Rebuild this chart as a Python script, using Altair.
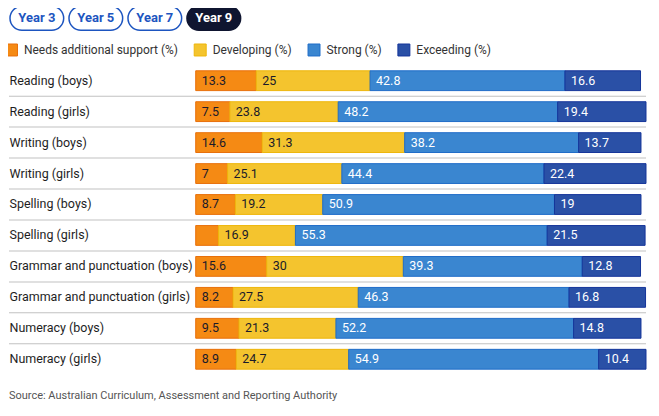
import altair as alt
import pandas as pd

categories = ["Reading (boys)", "Reading (girls)", "Writing (boys)", "Writing (girls)",
              "Spelling (boys)", "Spelling (girls)", "Grammar and punctuation (boys)",
              "Grammar and punctuation (girls)", "Numeracy (boys)", "Numeracy (girls)"]
series = ["Needs additional support (%)", "Developing (%)", "Strong (%)", "Exceeding (%)"]
needs = [13.3, 7.5, 14.6, 7, 8.7, 5.0, 15.6, 8.2, 9.5, 8.9]
developing = [25, 23.8, 31.3, 25.1, 19.2, 16.9, 30, 27.5, 21.3, 24.7]
strong = [42.8, 48.2, 38.2, 44.4, 50.9, 55.3, 39.3, 46.3, 52.2, 54.9]
exceeding = [16.6, 19.4, 13.7, 22.4, 19, 21.5, 12.8, 16.8, 14.8, 10.4]
buttons = ["Year 3", "Year 5", "Year 7", "Year 9"]
active_button = "Year 9"
source_text = "Source: Australian Curriculum, Assessment and Reporting Authority"

fills = ["#f58a14", "#f4c42e", "#3a86d0", "#2a50a6"]
strokes = ["#e86f0a", "#eeb60a", "#1f6cc8", "#14349a"]
FONT = "Roboto"
LEFT = -187

rows = []
for vals, s_idx in zip([needs, developing, strong, exceeding], range(4)):
    for c, v in zip(categories, vals):
        rows.append({"category": c, "series": series[s_idx], "order": s_idx, "value": v})
df = pd.DataFrame(rows)

yenc = alt.Y("category:N", sort=categories, title=None,
             scale=alt.Scale(paddingInner=0.36, paddingOuter=0.18),
             axis=alt.Axis(labelAlign="left", labelPadding=-LEFT, ticks=False, domain=False,
                           labelFont=FONT, labelFontSize=12.5, labelColor="#1e1e1e",
                           labelLimit=200, grid=False))

base = alt.Chart(df).transform_stack(
    stack="value", groupby=["category"], as_=["start", "end"],
    sort=[alt.SortField("order", order="ascending")]
)

def make_legend():
    return alt.Legend(title=None, orient="none", legendX=LEFT - 4, legendY=-22,
                      direction="horizontal", symbolType="square",
                      symbolSize=144, symbolStrokeWidth=1, labelOffset=6,
                      columnPadding=13, labelFont=FONT, labelFontSize=12,
                      labelColor="#333", labelLimit=300)

bars = base.mark_bar(strokeWidth=1).encode(
    y=yenc,
    x=alt.X("start:Q", scale=alt.Scale(domain=[0, 100], nice=False), axis=None, title=None),
    x2="end:Q",
    color=alt.Color("series:N", scale=alt.Scale(domain=series, range=fills), sort=series,
                    legend=make_legend()),
    stroke=alt.Stroke("series:N", scale=alt.Scale(domain=series, range=strokes), sort=series,
                      legend=make_legend()),
)

labelled = base.transform_calculate(
    label="datum.value >= 6 ? '' + datum.value : ''"
)
text_dark = labelled.transform_filter("datum.order < 2").mark_text(
    align="left", baseline="middle", dx=6, font=FONT, fontSize=12.5, color="#1a1a2a"
).encode(y=alt.Y("category:N", sort=categories), x=alt.X("start:Q"), text="label:N")
text_light = labelled.transform_filter("datum.order >= 2").mark_text(
    align="left", baseline="middle", dx=6, font=FONT, fontSize=12.5, color="#ffffff"
).encode(y=alt.Y("category:N", sort=categories), x=alt.X("start:Q"), text="label:N")

sep_df = pd.DataFrame({"category": categories[1:]})
seps = alt.Chart(sep_df).mark_tick(
    orient="horizontal", thickness=1, strokeDash=[2, 2], color="#a8a8a8", yOffset=-15.5
).encode(
    y=alt.Y("category:N", sort=categories),
    x=alt.value(LEFT + 319), size=alt.value(451 - LEFT),
)

btn_df = pd.DataFrame({"button": buttons, "active": [b == active_button for b in buttons]})
bx = alt.X("button:N", sort=buttons, axis=None, title=None,
           scale=alt.Scale(range=[LEFT + 1, 45], paddingInner=0.09, paddingOuter=0))
btn_rect = alt.Chart(btn_df).mark_rect(cornerRadius=12, strokeWidth=1.5).encode(
    x=bx,
    y=alt.value(-59), y2=alt.value(-35),
    fill=alt.condition("datum.active", alt.value("#0f1530"), alt.value("#ffffff")),
    stroke=alt.condition("datum.active", alt.value("#0f1530"), alt.value("#1d55c0")),
)
btn_text = alt.Chart(btn_df).mark_text(font=FONT, fontSize=13, fontWeight="bold",
                                       baseline="middle", align="center").encode(
    x=bx,
    y=alt.value(-47),
    text="button:N",
    color=alt.condition("datum.active", alt.value("#ffffff"), alt.value("#1d55c0")),
)

src = alt.Chart(pd.DataFrame({"t": [source_text]})).mark_text(
    align="left", baseline="middle", font=FONT, fontSize=11, color="#555"
).encode(x=alt.value(LEFT), y=alt.value(331), text="t:N")

bar_layer = alt.layer(seps, bars, text_dark, text_light, src)
btn_layer = alt.layer(btn_rect, btn_text)

chart = alt.layer(bar_layer, btn_layer).resolve_scale(
    x="independent", color="independent", stroke="independent"
).properties(
    width=456, height=310,
    autosize=alt.AutoSizeParams(type="none"),
    padding={"left": 188, "top": 57, "right": 0, "bottom": 28},
).configure_view(stroke=None)

chart.save("out.html", embed_options={"renderer": "svg", "actions": False})
